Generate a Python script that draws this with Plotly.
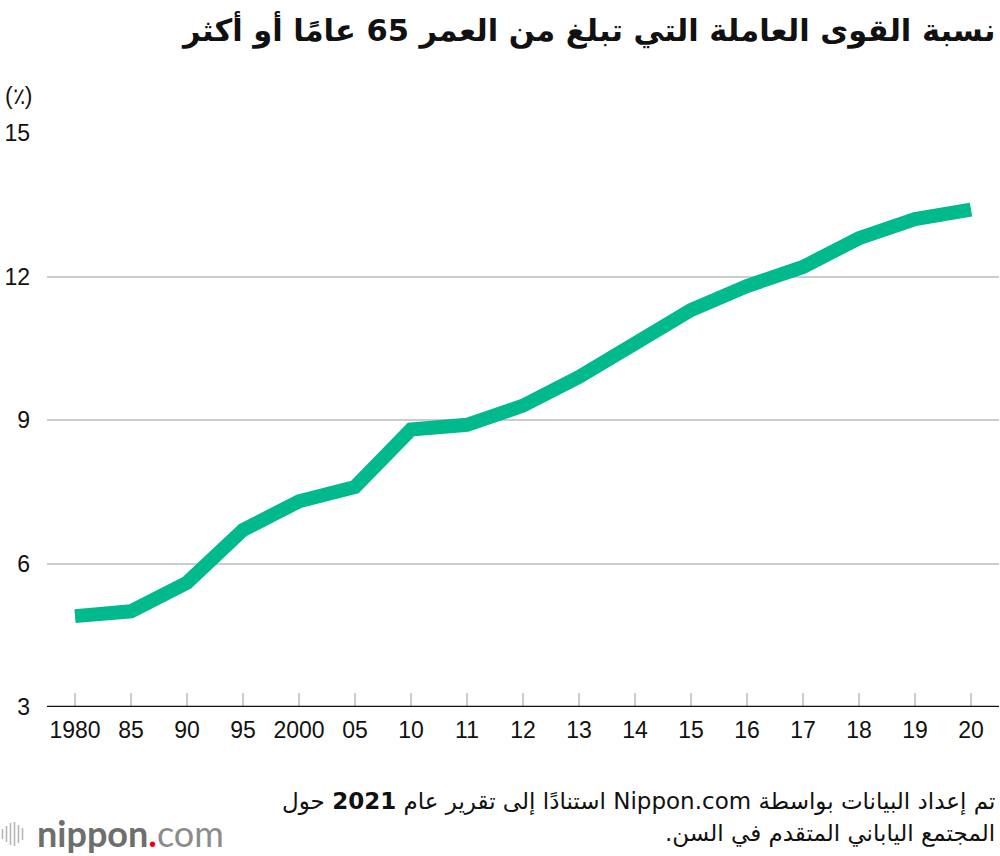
import plotly.graph_objects as go

years = ["1980", "85", "90", "95", "2000", "05", "10", "11", "12", "13",
         "14", "15", "16", "17", "18", "19", "20"]
share = [4.9, 5.0, 5.6, 6.7, 7.3, 7.6, 8.8, 8.9, 9.3, 9.9,
         10.6, 11.3, 11.8, 12.2, 12.8, 13.2, 13.4]
y_ticks = [3, 6, 9, 12, 15]

RLE, PDF = "\u202b", "\u202c"
title_text = "نسبة القوى العاملة التي تبلغ من العمر 65 عامًا أو أكثر"
unit_text = "(٪)"
source_line1 = "تم إعداد البيانات بواسطة Nippon.com استنادًا إلى تقرير عام <b>2021</b> حول"
source_line2 = "المجتمع الياباني المتقدم في السن."

fig = go.Figure()
fig.add_trace(go.Scatter(
    x=list(range(len(years))), y=share, mode="lines",
    line=dict(color="#00b98c", width=14),
    hoverinfo="skip", showlegend=False,
))

fig.update_layout(
    width=1000, height=856,
    margin=dict(l=47, r=1, t=133, b=149),
    paper_bgcolor="white", plot_bgcolor="white",
    font=dict(family="Liberation Sans, Arial, sans-serif", color="#111"),
    xaxis=dict(
        tickmode="array", tickvals=list(range(len(years))), ticktext=years,
        range=[-0.5, 16.5], showgrid=False, zeroline=False,
        showline=False,
        ticks="inside", ticklen=14, tickwidth=1.5, tickcolor="#cccccc",
        tickfont=dict(size=23, color="#111"), ticklabelstandoff=7,
    ),
    yaxis=dict(
        tickmode="array", tickvals=y_ticks, ticktext=[str(v) for v in y_ticks],
        range=[3, 15], showgrid=True, gridcolor="#cccccc", gridwidth=1.5,
        zeroline=False, showline=False, ticks="",
        tickfont=dict(size=23, color="#111"), ticklabelstandoff=16,
    ),
)

# baseline axis line at y = 3
fig.add_shape(type="line", xref="paper", yref="y", x0=0, x1=1, y0=3, y1=3,
              line=dict(color="#111", width=2.5), layer="above")

fig.add_annotation(text=RLE + "<b>" + title_text + "</b>" + PDF, xref="paper", yref="paper",
                   x=1.0, xshift=-2, y=1.0, yshift=103, xanchor="right", yanchor="middle",
                   showarrow=False,
                   font=dict(size=30.5, color="#111", family="DejaVu Sans"))
fig.add_annotation(text=unit_text, xref="paper", yref="paper", x=0, xshift=-44,
                   y=1.0, yshift=37, xanchor="left", yanchor="middle",
                   showarrow=False, font=dict(size=23, color="#111"))
fig.add_annotation(text=RLE + source_line1 + PDF, xref="paper", yref="paper", x=1.0,
                   xshift=-2, y=0, yshift=-94, xanchor="right", yanchor="middle",
                   showarrow=False, font=dict(size=23, color="#111", family="DejaVu Sans"))
fig.add_annotation(text=RLE + source_line2 + PDF, xref="paper", yref="paper", x=1.0,
                   xshift=-2, y=0, yshift=-126, xanchor="right", yanchor="middle",
                   showarrow=False, font=dict(size=23, color="#111", family="DejaVu Sans"))

# nippon.com logo
fig.add_annotation(text="<span style='color:#6e6e6e'><b>nippon</b></span><span style='color:#e60012'><b>.</b></span><span style='color:#8c8c8c'>com</span>",
                   xref="paper", yref="paper", x=0, xshift=-12, y=0, yshift=-126,
                   xanchor="left", yanchor="middle", showarrow=False,
                   font=dict(size=36, family="Lato, Noto Sans, sans-serif"))
bar_heights = [10, 16, 22, 24, 18, 12]
for i, h in enumerate(bar_heights):
    xp = 2.5 + i * 4
    xf = (xp - 47) / 952
    fig.add_shape(type="line", xref="paper", yref="paper",
                  x0=xf, x1=xf,
                  y0=(707 - 834 - h / 2) / 574,
                  y1=(707 - 834 + h / 2) / 574,
                  line=dict(color="#b5b5b5", width=1.6))

fig.write_html("out.html", config={"displayModeBar": False},
               post_script="document.body.style.margin='0';")
